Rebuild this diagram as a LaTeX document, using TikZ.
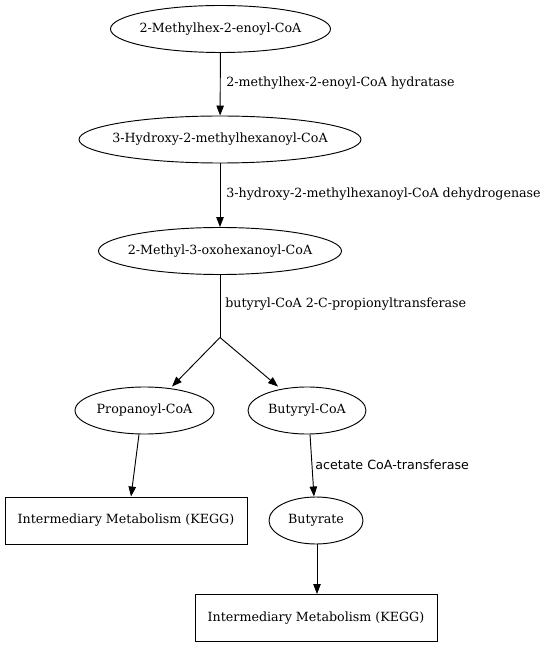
\documentclass[tikz,border=0pt]{standalone}
\usepackage{fontspec}
\setmainfont{DejaVu Serif}
\newfontfamily\labsans{DejaVu Sans}
\usetikzlibrary{shapes.geometric,arrows.meta}
\begin{document}
\begin{tikzpicture}[x=0.75pt,y=-0.75pt,
  every node/.style={font=\fontsize{9.5pt}{11pt}\selectfont},
  met/.style={draw,ellipse,inner xsep=-30pt,inner ysep=-8pt,line width=0.7pt,minimum height=35.25pt},
  box/.style={draw,rectangle,inner sep=0pt,line width=0.7pt,minimum height=35.25pt,minimum width=181.5pt},
  edge/.style={draw,line width=0.7pt},
  arr/.style={edge,-{Triangle[length=7.5pt,width=5.6pt]}},
  elab/.style={anchor=west,inner sep=0pt}]
\useasboundingbox (0,0) rectangle (547,648);
\node[met,minimum width=165pt] (a) at (220.5,29) {2-Methylhex-2-enoyl-CoA};
\node[met,minimum width=211.5pt] (b) at (220,139.5) {3-Hydroxy-2-methylhexanoyl-CoA};
\node[met,minimum width=182.25pt] (c) at (220,251) {2-Methyl-3-oxohexanoyl-CoA};
\coordinate (j) at (220,337.5);
\node[met,minimum width=104.25pt] (p) at (144.5,410.5) {Propanoyl-CoA};
\node[met,minimum width=88.5pt] (u) at (307,410.5) {Butyryl-CoA};
\node[box] (k1) at (126,520.5) {Intermediary Metabolism (KEGG)};
\node[met,minimum width=70.5pt] (y) at (316,520.5) {Butyrate};
\node[box] (k2) at (316,618) {Intermediary Metabolism (KEGG)};

\draw[arr] (a) -- (b);
\node[elab] (la) at (226,83.5) {2-methylhex-2-enoyl-CoA hydratase};
\draw[arr] (b) -- (c);
\node[elab] (lb) at (226,194.5) {3-hydroxy-2-methylhexanoyl-CoA dehydrogenase};
\draw[edge] (c) -- (j);
\node[elab] (lc) at (225,304.5) {butyryl-CoA 2-C-propionyltransferase};
\draw[arr] (j) -- (p.north -| 172,0);
\draw[arr] (j) -- (u.north -| 278,0);
\draw[arr] (p.south -| 139,0) -- (k1.north -| 131,0);
\draw[arr] (u.south -| 310,0) -- (y.north -| 314,0);
\node[elab,font=\labsans\fontsize{9.5pt}{11pt}\selectfont] (ld) at (315,464.5) {acetate CoA-transferase};
\draw[arr] (y.south -| 317,0) -- (k2.north -| 317,0);
\end{tikzpicture}
\end{document}
